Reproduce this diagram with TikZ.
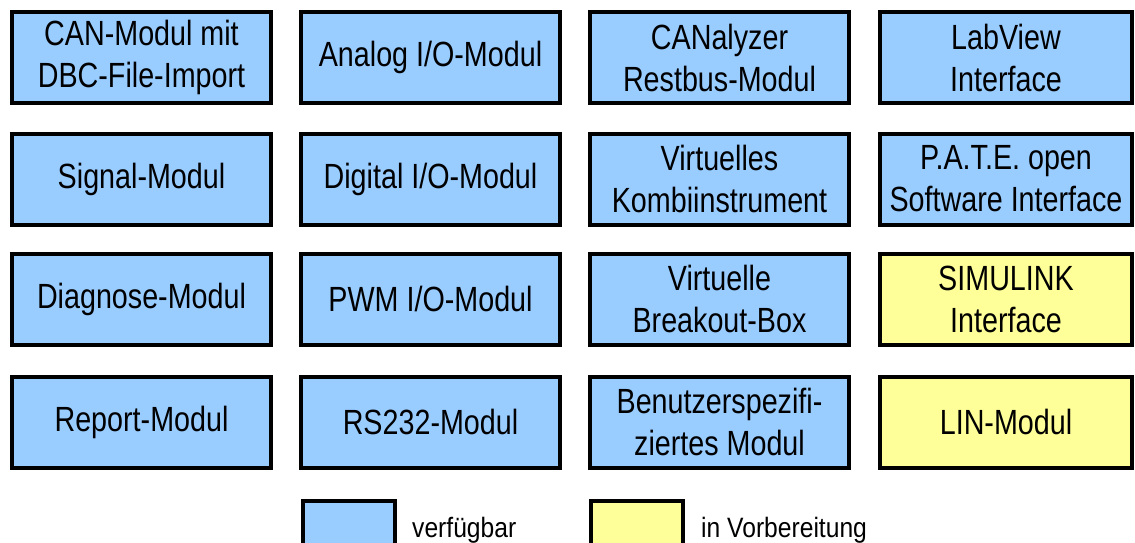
\documentclass[tikz,border=0pt]{standalone}
\usepackage{fontspec}
\setmainfont{Liberation Sans}[FakeStretch=0.82]
\newfontfamily\legfont{Liberation Sans}[FakeStretch=0.88]
\definecolor{avail}{HTML}{99CCFF}
\definecolor{prep}{HTML}{FFFF99}
\begin{document}
\begin{tikzpicture}[x=1pt,y=-1pt,
  modbox/.style={draw=black,line width=4pt,minimum width=259pt,minimum height=91pt,
    inner sep=0pt,align=center,font=\fontsize{35}{42}\selectfont},
  blue/.style={fill=avail},
  yel/.style={fill=prep},
  narrow/.style={minimum width=252pt},
  legbox/.style={draw=black,line width=4pt,minimum width=92pt,minimum height=60pt,inner sep=0pt,anchor=north west},
  legtext/.style={anchor=base west,inner sep=0pt,font=\legfont\fontsize{28}{32}\selectfont}]
\clip (0,0) rectangle (1135,542);
\fill[white] (0,0) rectangle (1135,542);
% row 1
\node[modbox,blue] (can) at (141.5,57.5) {CAN-Modul mit\\DBC-File-Import};
\node[modbox,blue] (aio) at (430.5,57.5) {Analog I/O-Modul};
\node[modbox,blue] (rest) at (719.5,57.5) {CANalyzer\\Restbus-Modul};
\node[modbox,blue,narrow] (lab) at (1006,57.5) {LabView\\Interface};
% row 2
\node[modbox,blue] (sig) at (141.5,179) {Signal-Modul};
\node[modbox,blue] (dio) at (430.5,179) {Digital I/O-Modul};
\node[modbox,blue] (kombi) at (719.5,179) {Virtuelles\\Kombiinstrument};
\node[modbox,blue,narrow] (pate) at (1006,179) {P.A.T.E. open\\Software Interface};
% row 3
\node[modbox,blue] (diag) at (141.5,299) {Diagnose-Modul};
\node[modbox,blue] (pwm) at (430.5,299) {PWM I/O-Modul};
\node[modbox,blue] (bob) at (719.5,299) {Virtuelle\\Breakout-Box};
\node[modbox,yel,narrow] (sim) at (1006,299) {SIMULINK\\Interface};
% row 4
\node[modbox,blue] (rep) at (141.5,422) {Report-Modul};
\node[modbox,blue] (rs) at (430.5,422) {RS232-Modul};
\node[modbox,blue] (user) at (719.5,422) {Benutzerspezifi-\\ziertes Modul};
\node[modbox,yel,narrow] (lin) at (1006,422) {LIN-Modul};
% legend
\node[legbox,fill=avail] (lb) at (301,499) {};
\node[legtext] (lbt) at (412,537) {verfügbar};
\node[legbox,fill=prep] (ly) at (589,499) {};
\node[legtext] (lyt) at (701,537) {in Vorbereitung};
\end{tikzpicture}
\end{document}
